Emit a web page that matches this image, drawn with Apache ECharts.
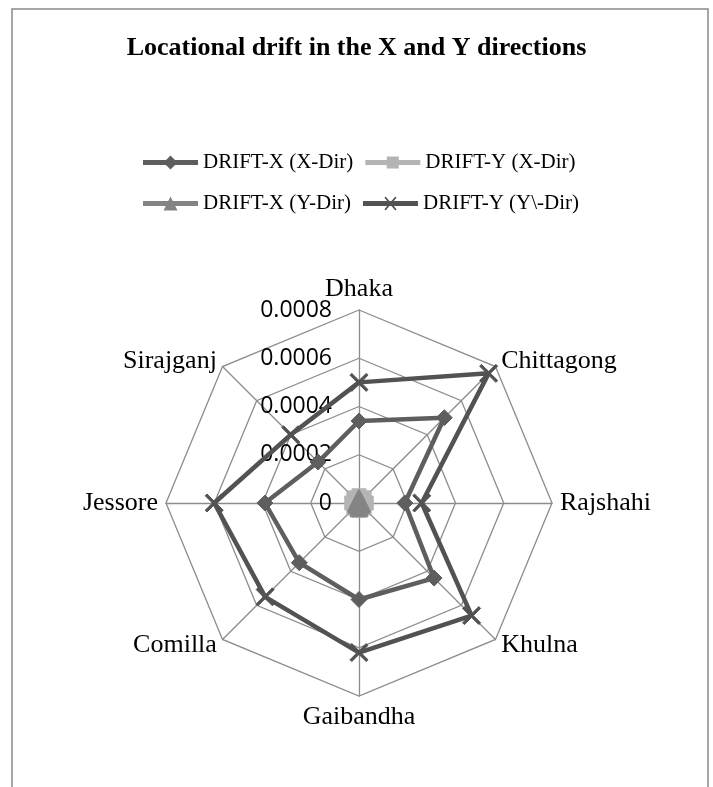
<!DOCTYPE html>
<html><head><meta charset="utf-8">
<script src="https://cdn.jsdelivr.net/npm/echarts@6/dist/echarts.min.js"></script>
<style>html,body{margin:0;padding:0;background:#fff}#c{width:713px;height:787px}</style>
</head><body><div id="c"></div>
<script>
// Categories listed clockwise from the top
const categories = ['Dhaka', 'Chittagong', 'Rajshahi', 'Khulna', 'Gaibandha', 'Comilla', 'Jessore', 'Sirajganj'];
const driftX_XDir = [0.00034, 0.00050, 0.00019, 0.00044, 0.00040, 0.00035, 0.00039, 0.00024];
const driftY_XDir = [0.00003, 0.00003, 0.00003, 0.00003, 0.00003, 0.00003, 0.00003, 0.00003];
const driftX_YDir = [0.00002, 0.00001, 0.00001, 0.00001, 0.00002, 0.00001, 0.00001, 0.00001];
const driftY_YDir = [0.00050, 0.00076, 0.00026, 0.00066, 0.00062, 0.00055, 0.00060, 0.00040];
const seriesNames = ['DRIFT-X (X-Dir)', 'DRIFT-Y (X-Dir)', 'DRIFT-X (Y-Dir)', 'DRIFT-Y (Y\\-Dir)'];
const tickValues = [0, 0.0002, 0.0004, 0.0006, 0.0008];
const titleText = 'Locational drift in the X and Y directions';

// ECharts places radar indicators counter-clockwise: reorder
const order = [0, 7, 6, 5, 4, 3, 2, 1];
const reorder = arr => order.map(i => arr[i]);
const maxV = tickValues[tickValues.length - 1];
const step = tickValues[1] - tickValues[0];

const CX = 359, CY = 503, R = 193;
const serif = '"Liberation Serif", "Times New Roman", serif';

const xPath = 'path://M0,1.2 L1.2,0 L6,4.8 L10.8,0 L12,1.2 L7.2,6 L12,10.8 L10.8,12 L6,7.2 L1.2,12 L0,10.8 L4.8,6 Z';
const colors = ['#5e5e5e', '#b4b4b4', '#848484', '#525252'];
const symbols = ['diamond', 'rect', 'triangle', xPath];
const symSizes = [16, 14, 18, 18];

// legend icons: thick line with marker in the middle (box 55x14)
const line = 'M0,4.5 H55 V9.5 H0 Z ';
const legendIcons = [
  'path://' + line + 'M27.5,0 L34.5,7 L27.5,14 L20.5,7 Z',
  'path://' + line + 'M21.5,1 H33.5 V13 H21.5 Z',
  'path://' + line + 'M27.5,0 L34.5,14 L20.5,14 Z',
  'path://' + line + 'M21.5,1.2 L22.7,0 L27.5,5.8 L32.3,0 L33.5,1.2 L28.7,7 L33.5,12.8 L32.3,14 L27.5,8.2 L22.7,14 L21.5,12.8 L26.3,7 Z'
];
const allData = [driftX_XDir, driftY_XDir, driftX_YDir, driftY_YDir];

const chart = echarts.init(document.getElementById('c'), null, {renderer: 'canvas'});
const legendBase = {
  left: 138, itemWidth: 55, itemHeight: 14, itemGap: 12,
  textStyle: {fontFamily: serif, fontSize: 21, color: '#000'}, selectedMode: false
};
chart.setOption({
  backgroundColor: '#fff',
  animation: false,
  title: {
    text: titleText, left: 'center', top: 30,
    textStyle: {fontFamily: serif, fontSize: 26, fontWeight: 'bold', color: '#000'}
  },
  legend: [
    Object.assign({}, legendBase, {top: 147, data: [0, 1].map(i => ({name: seriesNames[i], icon: legendIcons[i], itemStyle: {color: colors[i]}}))}),
    Object.assign({}, legendBase, {top: 188, data: [2, 3].map(i => ({name: seriesNames[i], icon: legendIcons[i], itemStyle: {color: colors[i]}}))})
  ],
  graphic: [{
    type: 'rect', shape: {x: 12, y: 9, width: 696, height: 800},
    style: {fill: 'none', stroke: '#8a8a8a', lineWidth: 1.5}, silent: true, z: -1
  }],
  radar: {
    center: [CX, CY], radius: R, startAngle: 90, shape: 'polygon', splitNumber: 4,
    indicator: reorder(categories).map(n => ({name: n, min: 0, max: maxV})),
    axisName: {color: '#000', fontFamily: serif, fontSize: 26},
    nameGap: 8,
    axisLine: {lineStyle: {color: '#8c8c8c', width: 1.3}},
    splitLine: {lineStyle: {color: '#8c8c8c', width: 1.3}},
    splitArea: {show: false},
    axisTick: {show: false},
    axisLabel: {show: false}
  },
  grid: {left: CX, top: CY - R, height: R, width: 1, containLabel: false},
  xAxis: {type: 'value', show: false, min: 0, max: 1},
  yAxis: {
    type: 'value', min: 0, max: maxV, interval: step,
    axisLine: {show: false}, axisTick: {show: false}, splitLine: {show: false},
    axisLabel: {margin: 27, fontFamily: '"Open Sans", sans-serif', fontSize: 23, color: '#000',
      formatter: v => tickValues.includes(+v.toFixed(4)) ? String(+v.toFixed(4)) : ''}
  },
  series: [{
    type: 'radar',
    data: allData.map((d, i) => ({
      name: seriesNames[i],
      value: reorder(d),
      symbol: symbols[i], symbolSize: symSizes[i],
      lineStyle: {color: colors[i], width: 4.5},
      itemStyle: {color: colors[i], borderColor: colors[i]}
    }))
  }]
});
</script></body></html>
